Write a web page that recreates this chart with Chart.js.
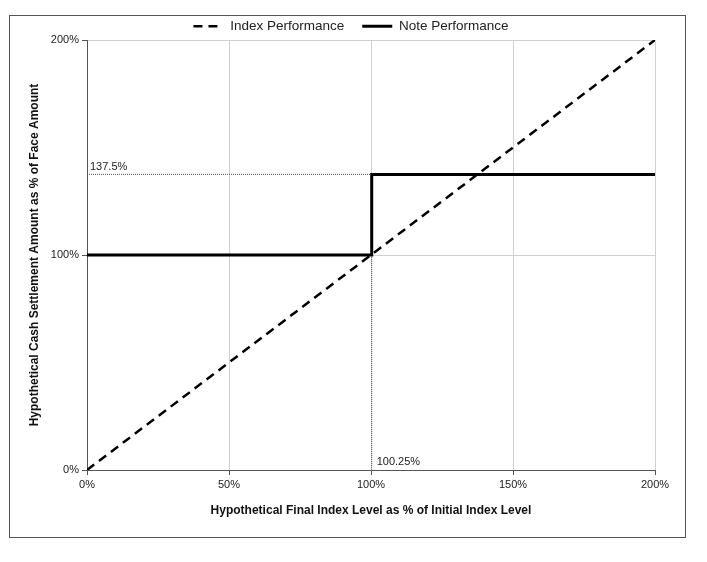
<!DOCTYPE html>
<html>
<head>
<meta charset="utf-8">
<script src="https://cdn.jsdelivr.net/npm/chart.js@4"></script>
<style>
  html, body { margin: 0; padding: 0; background: #fff; }
  #wrap { width: 707px; height: 562px; }
</style>
</head>
<body>
<div id="wrap"><canvas id="chart" width="707" height="562"></canvas></div>
<script>
// index level (% of initial) vs settlement (% of face)
var indexX = [0, 200];
var indexY = [0, 200];
var noteX = [0, 100.25, 100.25, 200];
var noteY = [100, 100, 137.5, 137.5];
var xTicks = [0, 50, 100, 150, 200];
var yTicks = [0, 100, 200];
var capLevel = 137.5;
var strikeLevel = 100.25;

function toPoints(xs, ys) {
    let pts = [];
    for (let i = 0; i < xs.length; i++) {
        pts.push({ x: xs[i], y: ys[i] });
    }
    return pts;
}

const frame = {
    id: 'frame',
    afterInit(chart) {
        // wide gaps between legend items, but keep the legend box short
        let lg = chart.legend;
        let fit = lg.fit;
        lg.fit = function () {
            fit.call(this);
            this.height -= 3;
        };
    },
    afterLayout(chart) {
        chart.legend.left += 12;
        chart.legend.right += 12;
    },
    beforeDraw(chart) {
        let ctx = chart.ctx;
        ctx.save();
        ctx.strokeStyle = '#555';
        ctx.lineWidth = 1;
        ctx.strokeRect(9.5, 15.5, 676, 522);
        ctx.restore();
    },
    afterDatasetsDraw(chart) {
        let ctx = chart.ctx;
        let xs = chart.scales.x, ys = chart.scales.y;
        ctx.save();
        ctx.fillStyle = '#222';
        ctx.font = '11px "Liberation Sans", Arial, sans-serif';
        ctx.textBaseline = 'bottom';
        ctx.fillText(capLevel + '%', xs.getPixelForValue(0) + 3, ys.getPixelForValue(capLevel) - 2);
        ctx.fillText(strikeLevel + '%', xs.getPixelForValue(strikeLevel) + 5, ys.getPixelForValue(0) - 3);
        ctx.restore();
    }
};

const config = {
    type: 'line',
    data: {
        datasets: [
            {
                label: 'Index Performance',
                data: toPoints(indexX, indexY),
                borderColor: '#000',
                borderWidth: 2.5,
                borderDash: [9, 6],
                pointRadius: 0
            },
            {
                label: 'Note Performance',
                data: toPoints(noteX, noteY),
                borderColor: '#000',
                borderWidth: 3,
                pointRadius: 0
            },
            {
                label: 'capRef',
                data: toPoints([0, strikeLevel], [capLevel, capLevel]),
                borderColor: '#555',
                borderWidth: 1,
                borderDash: [1, 1],
                pointRadius: 0
            },
            {
                label: 'strikeRef',
                data: toPoints([strikeLevel, strikeLevel], [0, 100]),
                borderColor: '#555',
                borderWidth: 1,
                borderDash: [1, 1],
                pointRadius: 0
            }
        ]
    },
    options: {
        responsive: false,
        animation: false,
        layout: { padding: { left: 23, right: 52, top: 1.5, bottom: 40 } },
        plugins: {
            tooltip: { enabled: false },
            legend: {
                position: 'top',
                labels: {
                    filter: item => item.text.indexOf('Ref') < 0,
                    generateLabels: chart => {
                        let items = Chart.defaults.plugins.legend.labels.generateLabels(chart);
                        items.forEach(item => {
                            let ds = chart.data.datasets[item.datasetIndex];
                            item.lineDash = ds.borderDash || [];
                            item.lineWidth = ds.borderWidth;
                        });
                        return items;
                    },
                    usePointStyle: true,
                    pointStyle: 'line',
                    boxWidth: 30,
                    pointStyleWidth: 30,
                    color: '#222',
                    padding: 18,
                    font: { family: '"Liberation Sans", Arial, sans-serif', size: 13.5 }
                }
            }
        },
        scales: {
            x: {
                type: 'linear',
                min: 0,
                max: 200,
                afterBuildTicks: s => { s.ticks = xTicks.map(v => ({ value: v })); },
                afterFit: s => { s.height = 52; },
                grid: { color: '#d0d0d0', tickColor: '#555', tickLength: 5 },
                border: { color: '#555', width: 1 },
                ticks: {
                    color: '#222',
                    font: { family: '"Liberation Sans", Arial, sans-serif', size: 11 },
                    callback: v => v + '%',
                    maxRotation: 0
                },
                title: {
                    display: true,
                    text: 'Hypothetical Final Index Level as % of Initial Index Level',
                    color: '#111',
                    font: { family: '"Liberation Sans", Arial, sans-serif', size: 12, weight: 'bold' },
                    padding: { top: 15 }
                }
            },
            y: {
                type: 'linear',
                min: 0,
                max: 200,
                afterBuildTicks: s => { s.ticks = yTicks.map(v => ({ value: v })); },
                afterFit: s => { s.width = 64; },
                grid: { color: '#d0d0d0', tickColor: '#555', tickLength: 5 },
                border: { color: '#555', width: 1 },
                ticks: {
                    color: '#222',
                    font: { family: '"Liberation Sans", Arial, sans-serif', size: 11 },
                    callback: v => v + '%'
                },
                title: {
                    display: true,
                    text: 'Hypothetical Cash Settlement Amount as % of Face Amount',
                    color: '#111',
                    font: { family: '"Liberation Sans", Arial, sans-serif', size: 12, weight: 'bold' },
                    padding: { bottom: 4 }
                }
            }
        }
    },
    plugins: [frame]
};

new Chart(document.getElementById('chart'), config);
</script>
</body>
</html>
